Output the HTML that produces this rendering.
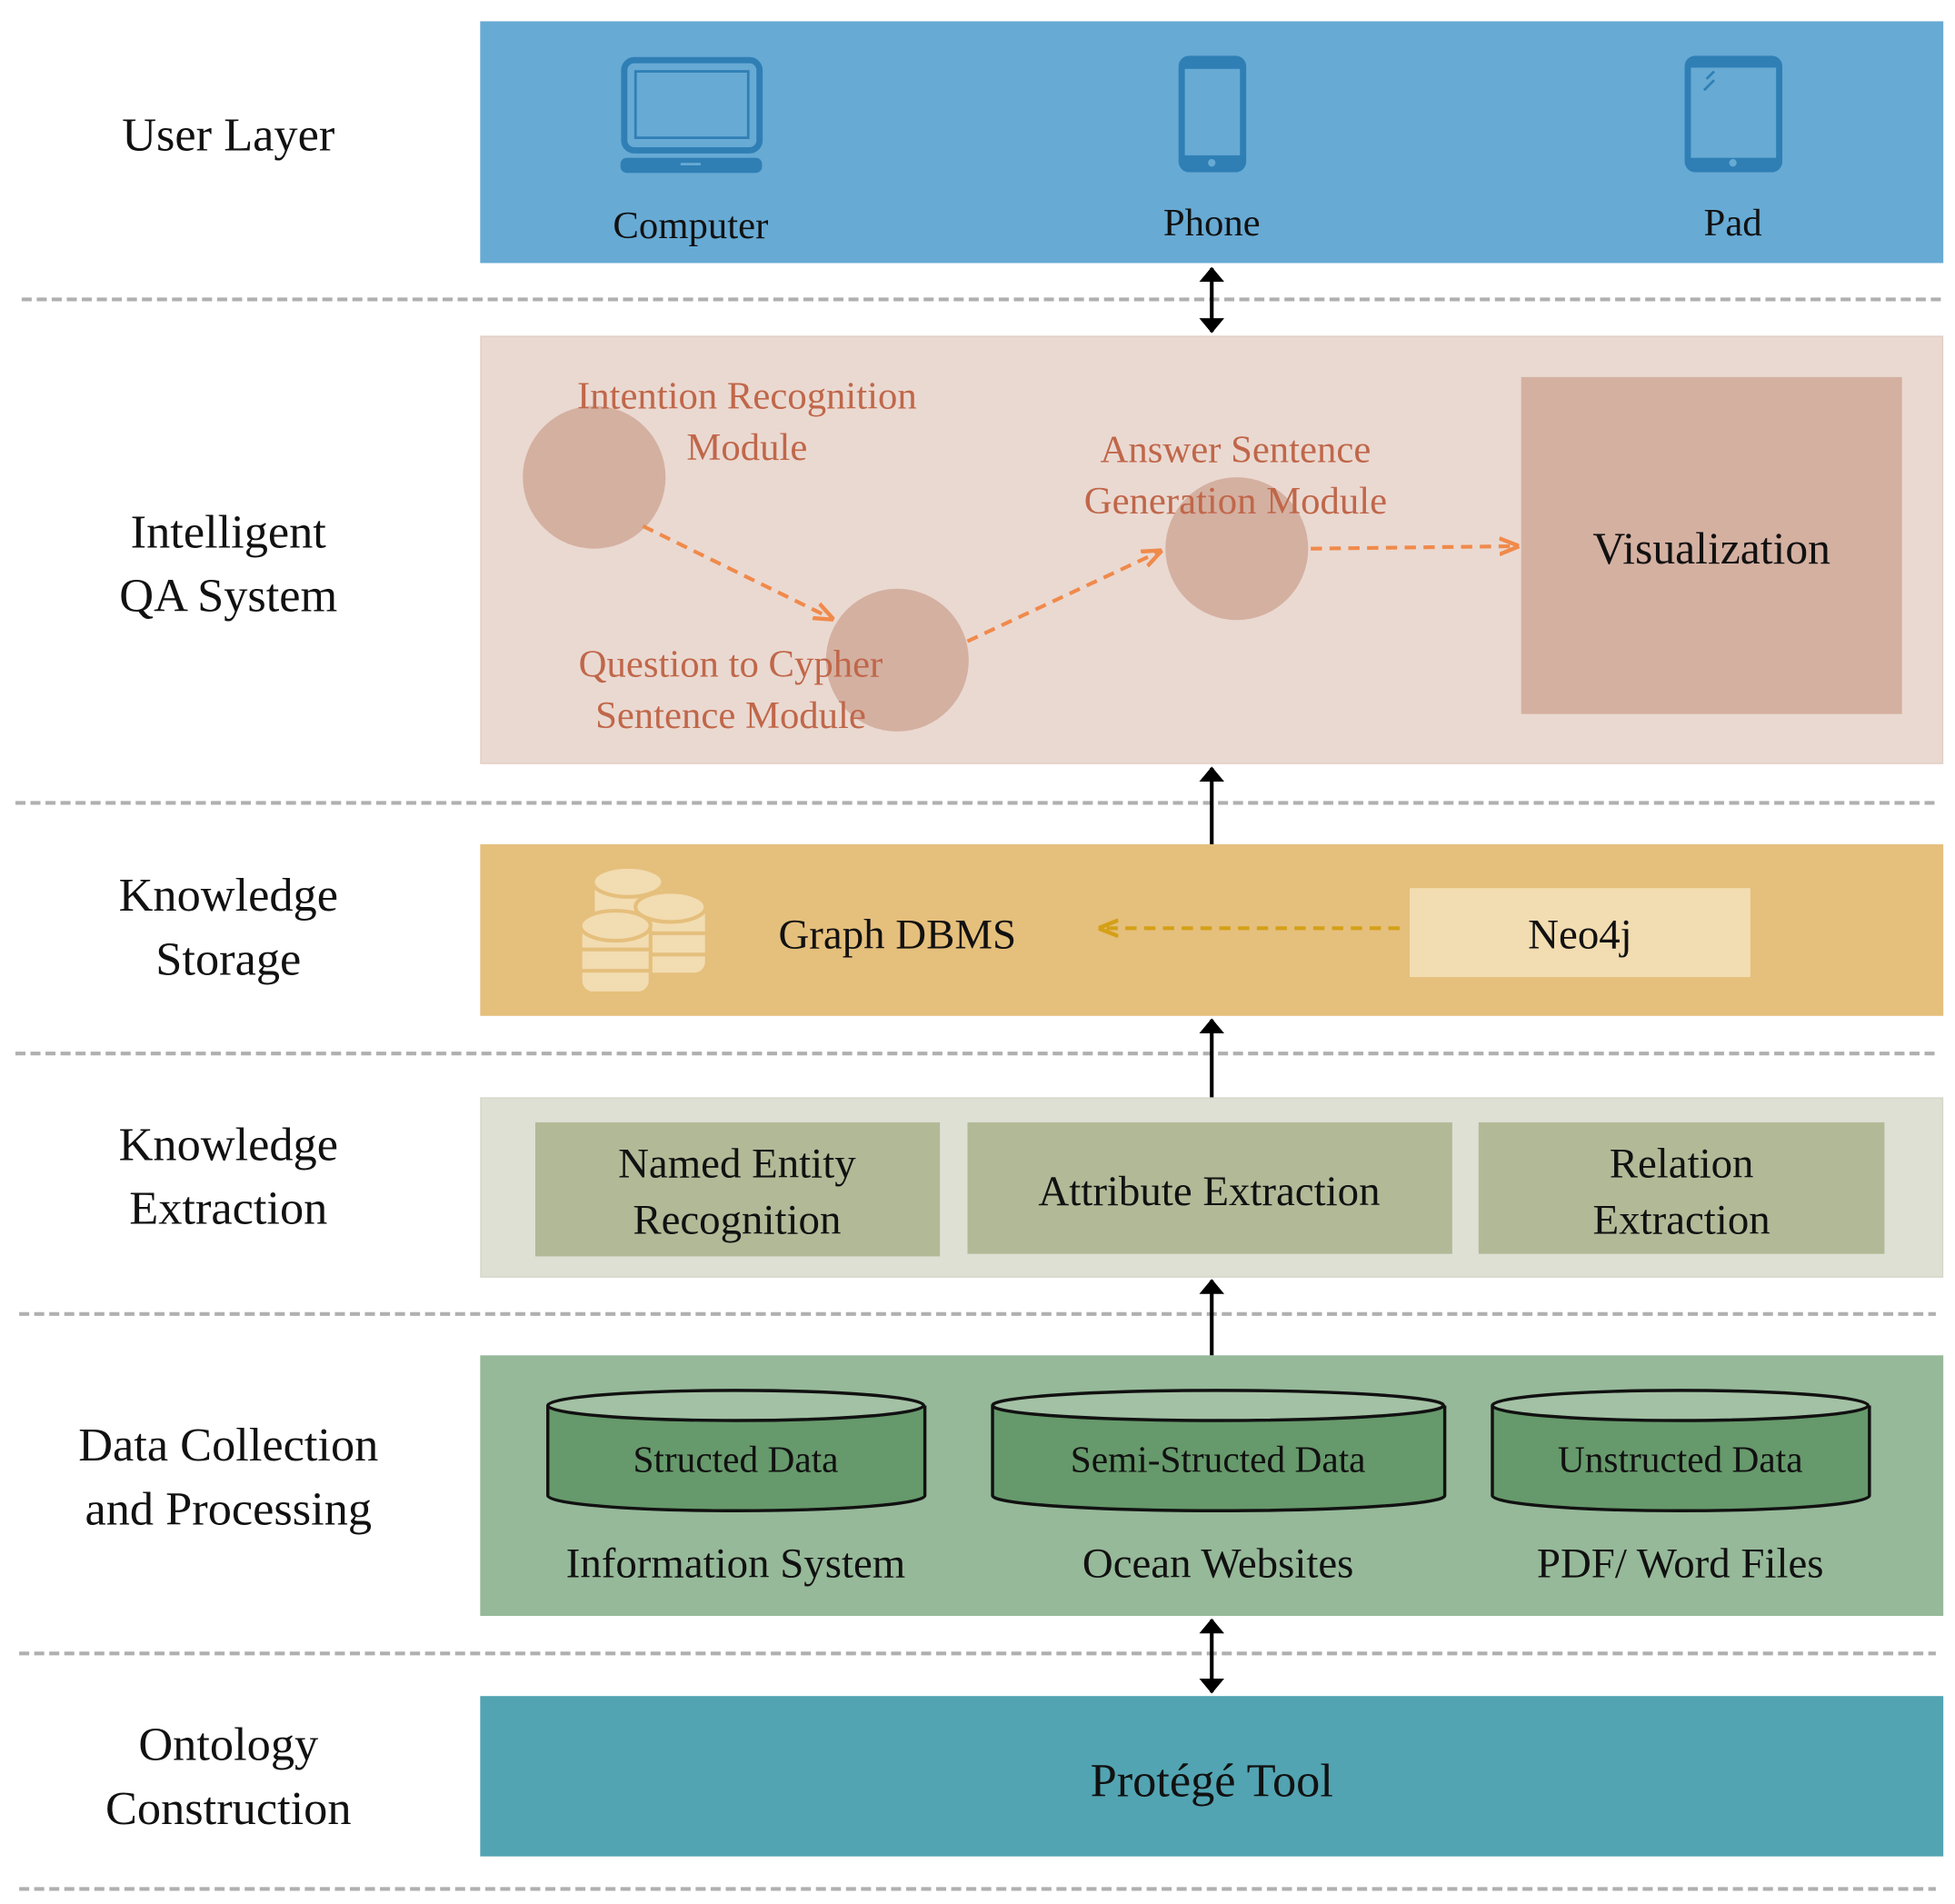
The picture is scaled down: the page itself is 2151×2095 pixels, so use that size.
<!DOCTYPE html>
<html><head><meta charset="utf-8"><style>html,body{margin:0;padding:0;background:#fff}svg{display:block}</style></head>
<body>
<svg width="2151" height="2095" viewBox="0 0 1560 1520" xmlns="http://www.w3.org/2000/svg" font-family="'Liberation Serif', serif">
<defs>
<marker id="ab" viewBox="0 0 10 10" refX="9" refY="5" markerWidth="7" markerHeight="7" orient="auto-start-reverse" markerUnits="userSpaceOnUse"><path d="M0,0 L10,5 L0,10 z" fill="#000" transform="scale(1)"/></marker>
<marker id="ao" viewBox="0 0 10 10" refX="9" refY="5" markerWidth="16" markerHeight="16" orient="auto" markerUnits="userSpaceOnUse"><path d="M0,1 L10,5 L0,9" fill="none" stroke="#f08a4b" stroke-width="2"/></marker>
<marker id="ay" viewBox="0 0 10 10" refX="9" refY="5" markerWidth="16" markerHeight="16" orient="auto" markerUnits="userSpaceOnUse"><path d="M0,1 L10,5 L0,9" fill="none" stroke="#d4a017" stroke-width="2"/></marker>
<marker id="bk" viewBox="0 0 12 20" refX="11" refY="10" markerWidth="12" markerHeight="20" orient="auto-start-reverse" markerUnits="userSpaceOnUse"><path d="M0,0 L12,10 L0,20 z" fill="#000"/></marker>
</defs>
<g stroke="#b0b0b0" stroke-width="3" stroke-dasharray="8,4">
<line x1="17" y1="239" x2="1551" y2="239"/>
<line x1="12" y1="641" x2="1545" y2="641"/>
<line x1="12" y1="841" x2="1545" y2="841"/>
<line x1="15" y1="1049" x2="1545" y2="1049"/>
<line x1="15" y1="1320" x2="1545" y2="1320"/>
<line x1="15" y1="1508" x2="1545" y2="1508"/>
</g>
<g font-size="38" text-anchor="middle" fill="#111">
<text x="182" y="120">User Layer</text>
<text x="182" y="437">Intelligent</text><text x="182" y="488">QA System</text>
<text x="182" y="727">Knowledge</text><text x="182" y="778">Storage</text>
<text x="182" y="926">Knowledge</text><text x="182" y="977">Extraction</text>
<text x="182" y="1166">Data Collection</text><text x="182" y="1217">and Processing</text>
<text x="182" y="1405">Ontology</text><text x="182" y="1456">Construction</text>
</g>
<!-- user layer -->
<rect x="383" y="17" width="1168" height="193" fill="#67aad4"/>
<g fill="none" stroke="#2f7fb5" stroke-width="5">
<rect x="498" y="48" width="108" height="72" rx="8"/>
<rect x="507" y="57" width="90" height="53" stroke-width="2"/>
<rect x="943" y="47" width="49" height="88" rx="6"/>
<rect x="1347" y="47" width="73" height="88" rx="6"/>
</g>
<rect x="495" y="126" width="113" height="12" rx="5" fill="#2f7fb5"/>
<rect x="543" y="130" width="16" height="2" fill="#67aad4"/>
<rect x="943" y="47" width="49" height="8" fill="#2f7fb5"/><rect x="943" y="124" width="49" height="11" fill="#2f7fb5"/>
<circle cx="967" cy="130" r="3" fill="#67aad4"/>
<rect x="1347" y="47" width="73" height="7" fill="#2f7fb5"/><rect x="1347" y="126" width="73" height="9" fill="#2f7fb5"/>
<circle cx="1383" cy="130" r="3" fill="#67aad4"/>
<path d="M1362,63 l6,-6 M1360,72 l8,-8" stroke="#2f7fb5" stroke-width="2"/>
<g font-size="31" text-anchor="middle" fill="#111">
<text x="551" y="190">Computer</text><text x="967" y="188">Phone</text><text x="1383" y="188">Pad</text>
</g>
<!-- QA -->
<rect x="383.5" y="268.5" width="1167" height="341" fill="#ead9d1" stroke="#e0cdc3"/>
<rect x="1214" y="301" width="304" height="269" fill="#d4b0a1"/>
<text x="1366" y="450" font-size="36" text-anchor="middle" fill="#111">Visualization</text>
<g fill="#d4b0a1"><circle cx="474" cy="381" r="57"/><circle cx="716" cy="527" r="57"/><circle cx="987" cy="438" r="57"/></g>
<g stroke="#f08a4b" stroke-width="3" stroke-dasharray="9,6" fill="none">
<line x1="513" y1="420" x2="664" y2="494" marker-end="url(#ao)"/>
<line x1="772" y1="512" x2="926" y2="440" marker-end="url(#ao)"/>
<line x1="1046" y1="438" x2="1211" y2="436" marker-end="url(#ao)"/>
</g>
<g font-size="31" text-anchor="middle" fill="#c0674a">
<text x="596" y="326">Intention Recognition</text><text x="596" y="367">Module</text>
<text x="986" y="369">Answer Sentence</text><text x="986" y="410">Generation Module</text>
<text x="583" y="540">Question to Cypher</text><text x="583" y="581">Sentence Module</text>
</g>
<!-- storage -->
<rect x="383" y="674" width="1168" height="137" fill="#e5bf7c"/>
<rect x="1125" y="709" width="272" height="71" fill="#f2dcb1"/>
<text x="1261" y="757" font-size="34" text-anchor="middle" fill="#111">Neo4j</text>
<text x="716" y="757" font-size="34" text-anchor="middle" fill="#111">Graph DBMS</text>
<line x1="1117" y1="741" x2="878" y2="741" stroke="#d4a017" stroke-width="3" stroke-dasharray="9,6" marker-end="url(#ay)"/>
<g fill="#f2dcb1" stroke="#e5bf7c" stroke-width="3">
<rect x="473" y="700" width="56" height="45" rx="10"/><ellipse cx="501" cy="704" rx="28" ry="12"/>
<rect x="507" y="720" width="57" height="58" rx="10"/><ellipse cx="535" cy="724" rx="28" ry="12"/>
<path d="M507,745 h57 M507,762 h57" />
<rect x="463" y="735" width="56" height="58" rx="10"/><ellipse cx="491" cy="739" rx="28" ry="12"/>
<path d="M463,758 h56 M463,775 h56"/>
</g>
<!-- extraction -->
<rect x="383.5" y="876.5" width="1167" height="143" fill="#dfe0d4" stroke="#d4d5c8"/>
<g fill="#b2b997"><rect x="427" y="896" width="323" height="107"/><rect x="772" y="896" width="387" height="105"/><rect x="1180" y="896" width="324" height="105"/></g>
<g font-size="34" text-anchor="middle" fill="#111">
<text x="588" y="940">Named Entity</text><text x="588" y="985">Recognition</text>
<text x="965" y="962">Attribute Extraction</text>
<text x="1342" y="940">Relation</text><text x="1342" y="985">Extraction</text>
</g>
<!-- data -->
<rect x="383" y="1082" width="1168" height="208" fill="#96b999"/>
<g stroke="#111" stroke-width="2.5">
<path d="M437,1122 v72 a150,12 0 0 0 301,0 v-72" fill="#66996b"/><ellipse cx="587" cy="1122" rx="150" ry="12" fill="#a3c1a4"/>
<path d="M792,1122 v72 a180,12 0 0 0 361,0 v-72" fill="#66996b"/><ellipse cx="972" cy="1122" rx="180" ry="12" fill="#a3c1a4"/>
<path d="M1191,1122 v72 a150,12 0 0 0 301,0 v-72" fill="#66996b"/><ellipse cx="1341" cy="1122" rx="150" ry="12" fill="#a3c1a4"/>
</g>
<g font-size="30" text-anchor="middle" fill="#111">
<text x="587" y="1175">Structed Data</text><text x="972" y="1175">Semi-Structed Data</text><text x="1341" y="1175">Unstructed Data</text>
</g>
<g font-size="34" text-anchor="middle" fill="#111">
<text x="587" y="1259">Information System</text><text x="972" y="1259">Ocean Websites</text><text x="1341" y="1259">PDF/ Word Files</text>
</g>
<!-- protege -->
<rect x="383" y="1354" width="1168" height="128" fill="#52a4b2"/>
<text x="967" y="1434" font-size="38" text-anchor="middle" fill="#111">Protégé Tool</text>
<!-- black arrows -->
<g stroke="#000" stroke-width="3">
<line x1="967" y1="214" x2="967" y2="265" marker-start="url(#bk)" marker-end="url(#bk)"/>
<line x1="967" y1="674" x2="967" y2="613" marker-end="url(#bk)"/>
<line x1="967" y1="876" x2="967" y2="814" marker-end="url(#bk)"/>
<line x1="967" y1="1082" x2="967" y2="1022" marker-end="url(#bk)"/>
<line x1="967" y1="1293" x2="967" y2="1351" marker-start="url(#bk)" marker-end="url(#bk)"/>
</g>
</svg>
</body></html>
